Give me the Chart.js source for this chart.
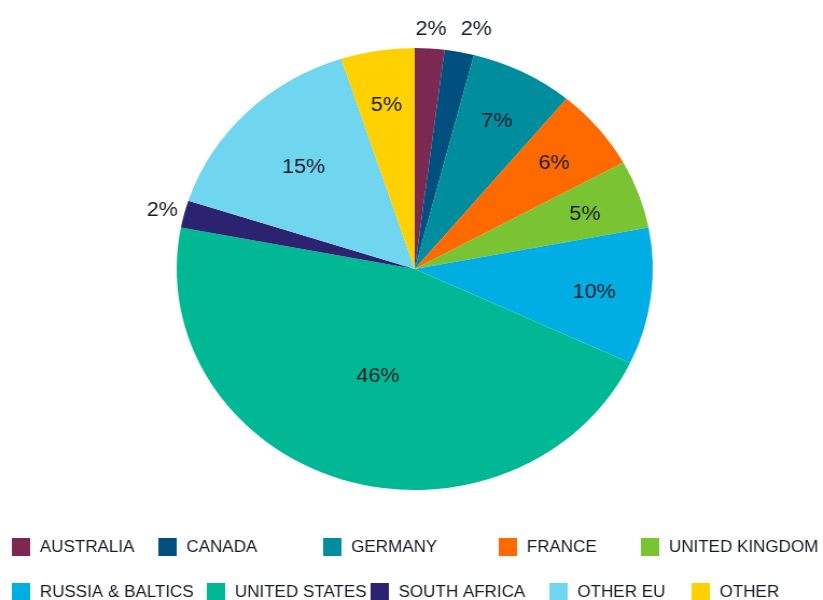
<!DOCTYPE html>
<html>
<head>
<meta charset="utf-8">
<script src="https://cdn.jsdelivr.net/npm/chart.js@4"></script>
<style>
  html, body { margin: 0; padding: 0; background: #fff; overflow: hidden; }
  #wrap { width: 764px; height: 600px; transform: scaleX(1.0772); transform-origin: 0 0; }
</style>
</head>
<body>
<div id="wrap"><canvas id="c" width="764" height="600"></canvas></div>
<script>
const categories = ["AUSTRALIA", "CANADA", "GERMANY", "FRANCE", "UNITED KINGDOM",
                    "RUSSIA & BALTICS", "UNITED STATES", "SOUTH AFRICA", "OTHER EU", "OTHER"];
const shares = [2, 2, 7, 6, 5, 10, 46, 2, 15, 5];
const valueLabels = ["2%", "2%", "7%", "6%", "5%", "10%", "46%", "2%", "15%", "5%"];
const colors = ["#7B2852", "#00507F", "#008E9F", "#FF6A00", "#7AC434",
                "#00AEE4", "#00B894", "#2B2270", "#70D5EF", "#FFD100"];

const TEXT = "#161a26";
const FONT = '"Liberation Sans", Arial, sans-serif';

const sliceLabels = {
  id: "sliceLabels",
  afterDatasetsDraw(chart) {
    const ctx = chart.ctx;
    const meta = chart.getDatasetMeta(0);
    ctx.save();
    ctx.fillStyle = TEXT;
    ctx.font = "20px " + FONT;
    ctx.textAlign = "center";
    ctx.textBaseline = "middle";
    const placed = [];
    meta.data.forEach((arc, i) => {
      const p = arc.getProps(["x", "y", "startAngle", "endAngle", "outerRadius"], true);
      const mid = (p.startAngle + p.endAngle) / 2;
      const v = shares[i];
      let r;
      const outside = v < 3;
      if (outside) r = p.outerRadius + 21;
      else if (v >= 40) r = p.outerRadius * 0.5;
      else if (v >= 12) r = p.outerRadius * 0.66;
      else r = p.outerRadius * 0.76;
      let x = p.x + Math.cos(mid) * r;
      let y = p.y + Math.sin(mid) * r + 2;
      const w = ctx.measureText(valueLabels[i]).width;
      if (outside) {
        placed.forEach(b => {
          if (Math.abs(b.y - y) < 20 && x - w / 2 < b.x + b.w / 2 + 13 && x > b.x) {
            x = b.x + b.w / 2 + 13 + w / 2;
            y = b.y;
          }
        });
        placed.push({ x, y, w });
      }
      ctx.fillText(valueLabels[i], x, y);
    });
    ctx.restore();
  }
};

// legend layout: two rows of five, column x positions per row
const legendRows = [
  { y: 547, xs: [11, 147, 300, 463, 595], items: [0, 1, 2, 3, 4] },
  { y: 592, xs: [11, 192, 344, 510, 642], items: [5, 6, 7, 8, 9] }
];
const customLegend = {
  id: "customLegend",
  afterDraw(chart) {
    const ctx = chart.ctx;
    ctx.save();
    ctx.font = "15.8px " + FONT;
    ctx.textBaseline = "middle";
    ctx.textAlign = "left";
    legendRows.forEach(row => {
      row.items.forEach((idx, k) => {
        const x = row.xs[k];
        ctx.fillStyle = colors[idx];
        ctx.fillRect(x, row.y - 9, 17, 18);
        ctx.fillStyle = TEXT;
        ctx.fillText(categories[idx], x + 26, row.y + 1);
      });
    });
    ctx.restore();
  }
};

new Chart(document.getElementById("c"), {
  type: "pie",
  data: {
    labels: categories,
    datasets: [{
      data: shares,
      backgroundColor: colors,
      borderWidth: 0
    }]
  },
  options: {
    responsive: false,
    devicePixelRatio: 1,
    animation: false,
    layout: { padding: { top: 48, bottom: 110, left: 6, right: 0 } },
    plugins: {
      legend: { display: false },
      tooltip: { enabled: false }
    }
  },
  plugins: [sliceLabels, customLegend]
});
</script>
</body>
</html>
